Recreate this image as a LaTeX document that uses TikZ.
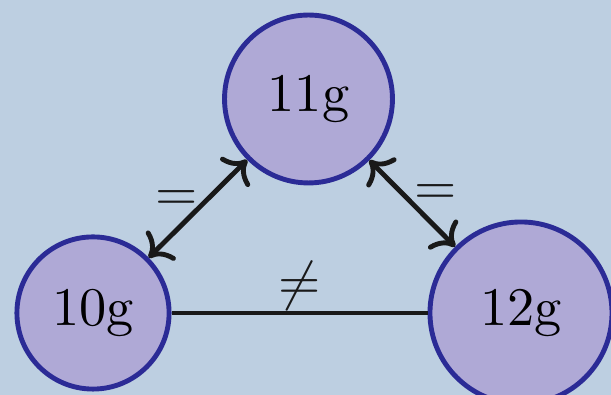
\documentclass[tikz,border=0pt]{standalone}
\usepackage{xcolor}
\usetikzlibrary{arrows.meta}
\definecolor{bgblue}{RGB}{189,207,225}
\definecolor{massfill}{RGB}{175,169,214}
\definecolor{massline}{RGB}{43,43,150}

\begin{document}
\begin{tikzpicture}[x=0.184pt,y=0.184pt,
    mass/.style={circle,draw=massline,fill=massfill,line width=0.9pt,inner sep=0pt},
    link/.style={line width=0.9pt,black!90}]
            \fill[bgblue] (0,0) rectangle (611,395);
            \useasboundingbox (0,0) rectangle (611,395);
            \node[mass,minimum size=28pt] (ten) at (93,82) {10g};
            \node[mass,minimum size=30.9pt] (eleven) at (308.5,296) {11g};
            \node[mass,minimum size=33.5pt] (twelve) at (521,82) {12g};
            \draw[link,<->] (ten) -- node[midway,anchor=south east,inner sep=0pt,yshift=-0.7pt,xshift=0.5pt] {$=$} (eleven);
            \draw[link,<->] (eleven) -- node[midway,anchor=south west,inner sep=0pt,yshift=-0.7pt] {$=$} (twelve);
            \draw[link] (ten) -- node[midway,anchor=south,inner sep=0pt] {$\neq$} (twelve);
        \end{tikzpicture}
\end{document}
